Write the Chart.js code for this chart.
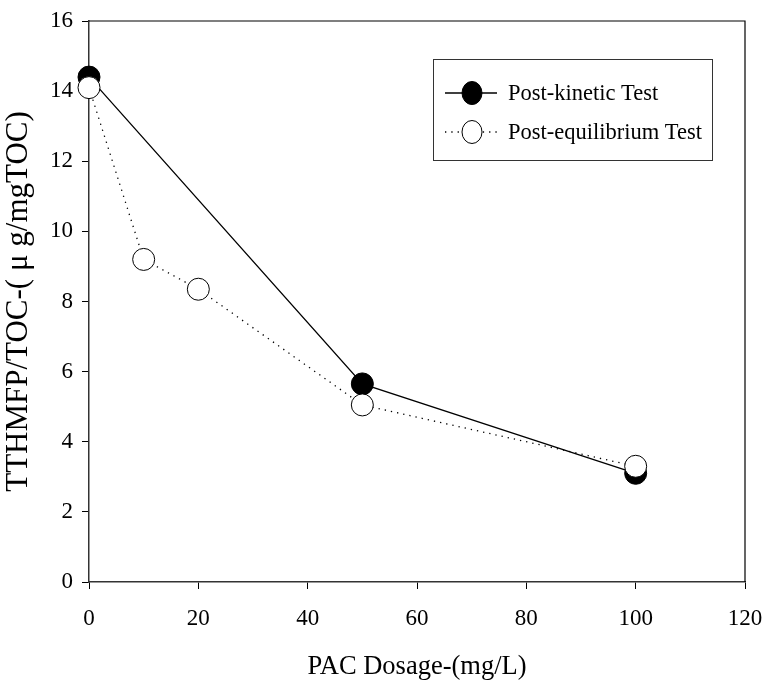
<!DOCTYPE html>
<html>
<head>
<meta charset="utf-8">
<script src="https://cdn.jsdelivr.net/npm/chart.js@4"></script>
<style>
  html, body { margin: 0; padding: 0; background: #fff; }
  #wrap { width: 768px; height: 687px; }
</style>
</head>
<body>
<div id="wrap"><canvas id="chart" width="768" height="687"></canvas></div>
<script>
// data
const kineticX = [0, 50, 100];
const kineticY = [14.4, 5.65, 3.1];
const equilX = [0, 10, 20, 50, 100];
const equilY = [14.1, 9.2, 8.35, 5.05, 3.3];
const xTicks = [0, 20, 40, 60, 80, 100, 120];
const yTicks = [0, 2, 4, 6, 8, 10, 12, 14, 16];

const serif = "'Liberation Serif', 'DejaVu Serif', serif";

function toPoints(xs, ys) {
    return xs.map((x, i) => ({ x: x, y: ys[i] }));
}

// frame round the plot area and the boxed legend
const framePlugin = {
    id: 'frame',
    afterDatasetsDraw(chart) {
        const ctx = chart.ctx;
        const a = chart.chartArea;
        ctx.save();
        ctx.strokeStyle = '#000';
        ctx.lineWidth = 1.2;
        ctx.beginPath();
        ctx.moveTo(a.left, a.top);
        ctx.lineTo(a.right, a.top);
        ctx.lineTo(a.right, a.bottom);
        ctx.stroke();

        // legend
        const bx = 433, by = 59, bw = 279, bh = 101;
        ctx.fillStyle = '#fff';
        ctx.fillRect(bx, by, bw, bh);
        ctx.lineWidth = 1;
        ctx.strokeStyle = '#333';
        ctx.strokeRect(bx + 0.5, by + 0.5, bw, bh);
        ctx.font = '22.5px ' + serif;
        ctx.textBaseline = 'middle';
        chart.data.datasets.forEach((ds, i) => {
            const cy = by + 34 + i * 39;
            const cx = bx + 39;
            ctx.strokeStyle = '#000';
            ctx.lineWidth = ds.borderWidth;
            ctx.setLineDash(ds.borderDash || []);
            ctx.beginPath();
            ctx.moveTo(cx - 27, cy);
            ctx.lineTo(cx + 25, cy);
            ctx.stroke();
            ctx.setLineDash([]);
            ctx.beginPath();
            ctx.ellipse(cx, cy, 10, 11.5, 0, 0, Math.PI * 2);
            ctx.fillStyle = ds.pointBackgroundColor;
            ctx.fill();
            ctx.lineWidth = 1;
            ctx.stroke();
            ctx.fillStyle = '#000';
            ctx.fillText(ds.label, cx + 36, cy + 1);
        });
        ctx.restore();
    }
};

new Chart(document.getElementById('chart'), {
    type: 'scatter',
    data: {
        datasets: [
            {
                label: 'Post-kinetic Test',
                data: toPoints(kineticX, kineticY),
                showLine: true,
                borderColor: '#000',
                borderWidth: 1.3,
                pointRadius: 11,
                pointBackgroundColor: '#000',
                pointBorderColor: '#000',
                pointBorderWidth: 1,
                order: 2,
                clip: false
            },
            {
                label: 'Post-equilibrium Test',
                data: toPoints(equilX, equilY),
                showLine: true,
                borderColor: '#000',
                borderWidth: 1.3,
                borderDash: [1.3, 5],
                pointRadius: 11,
                pointBackgroundColor: '#fff',
                pointBorderColor: '#000',
                pointBorderWidth: 1,
                order: 1,
                clip: false
            }
        ]
    },
    options: {
        responsive: false,
        animation: false,
        layout: { padding: { top: 21, right: 23, left: 0, bottom: 0 } },
        plugins: {
            legend: { display: false },
            tooltip: { enabled: false }
        },
        scales: {
            x: {
                type: 'linear',
                min: 0,
                max: 120,
                afterBuildTicks(scale) { scale.ticks = xTicks.map(v => ({ value: v })); },
                afterFit(scale) {
                    scale.height = 105;
                    scale.paddingLeft = 0;
                    scale.paddingRight = 0;
                },
                grid: { drawOnChartArea: false, drawTicks: true, tickLength: 7, color: '#000' },
                border: { display: true, color: '#333', width: 1.5 },
                ticks: { color: '#000', font: { family: serif, size: 23 }, padding: 16, maxRotation: 0 },
                title: {
                    display: true,
                    text: 'PAC Dosage-(mg/L)',
                    color: '#000',
                    font: { family: serif, size: 26.5 },
                    padding: { top: 13 }
                }
            },
            y: {
                type: 'linear',
                min: 0,
                max: 16,
                afterBuildTicks(scale) { scale.ticks = yTicks.map(v => ({ value: v })); },
                afterFit(scale) {
                    scale.width = 89;
                    scale.paddingTop = 0;
                    scale.paddingBottom = 0;
                },
                grid: { drawOnChartArea: false, drawTicks: true, tickLength: 7, color: '#000' },
                border: { display: true, color: '#333', width: 1.5 },
                ticks: { color: '#000', font: { family: serif, size: 23 }, padding: 9 },
                title: {
                    display: true,
                    text: 'TTHMFP/TOC-( μ g/mgTOC)',
                    color: '#000',
                    font: { family: serif, size: 31 },
                    padding: { top: 0, bottom: 0 }
                }
            }
        }
    },
    plugins: [framePlugin]
});
</script>
</body>
</html>
